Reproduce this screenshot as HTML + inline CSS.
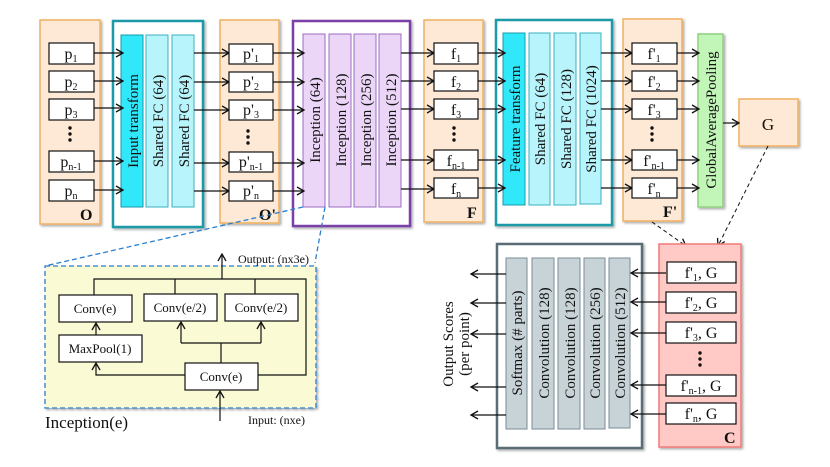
<!DOCTYPE html>
<html><head><meta charset="utf-8"><style>
html,body{margin:0;padding:0;background:#fff;}
svg{display:block;font-family:"Liberation Serif",serif;}
</style></head><body>
<svg width="830" height="467" viewBox="0 0 830 467" xmlns="http://www.w3.org/2000/svg">
<defs>
<marker id="a" markerWidth="10" markerHeight="10" refX="8" refY="5" orient="auto" markerUnits="userSpaceOnUse">
<path d="M1,1 L8,5 L1,9" fill="none" stroke="#111" stroke-width="1.3"/></marker>
<filter id="sh" x="-10%" y="-10%" width="130%" height="130%"><feDropShadow dx="1.5" dy="1.5" stdDeviation="1.2" flood-color="#000" flood-opacity="0.35"/></filter>
</defs>
<g font-size="15" fill="#111">
<!-- O -->
<rect x="40" y="20" width="60" height="204" fill="#fde9d5" stroke="#f0b060" stroke-width="1.5" filter="url(#sh)"/>
<text x="80" y="220" font-size="16" font-weight="bold">O</text>
<!-- Input transform block -->
<rect x="113" y="21" width="90" height="206" fill="#fff" stroke="#1a9aa8" stroke-width="2.5" filter="url(#sh)"/>
<rect x="121" y="35" width="22" height="172" fill="#30e8fa" stroke="#1a9aa8"/>
<rect x="146" y="35" width="22" height="172" fill="#b8f4fb" stroke="#3ab0c0"/>
<rect x="172" y="35" width="22" height="172" fill="#b8f4fb" stroke="#3ab0c0"/>
<text transform="translate(138,121) rotate(-90)" text-anchor="middle">Input  transform</text>
<text transform="translate(163,121) rotate(-90)" text-anchor="middle">Shared  FC (64)</text>
<text transform="translate(189,121) rotate(-90)" text-anchor="middle">Shared  FC (64)</text>
<!-- O' -->
<rect x="220" y="20" width="59" height="203" fill="#fde9d5" stroke="#f0b060" stroke-width="1.5" filter="url(#sh)"/>
<text x="259" y="220" font-size="16" font-weight="bold">O'</text>
<!-- Inception block -->
<rect x="293" y="21" width="117" height="205" fill="#fff" stroke="#7a3fa8" stroke-width="2.5" filter="url(#sh)"/>
<rect x="303" y="34" width="22" height="173" fill="#ecd6f8" stroke="#9b6cc0"/>
<rect x="329" y="34" width="22" height="173" fill="#ecd6f8" stroke="#9b6cc0"/>
<rect x="354" y="34" width="22" height="173" fill="#ecd6f8" stroke="#9b6cc0"/>
<rect x="379" y="34" width="22" height="173" fill="#ecd6f8" stroke="#9b6cc0"/>
<text transform="translate(320,120) rotate(-90)" text-anchor="middle">Inception  (64)</text>
<text transform="translate(346,120) rotate(-90)" text-anchor="middle">Inception  (128)</text>
<text transform="translate(371,120) rotate(-90)" text-anchor="middle">Inception  (256)</text>
<text transform="translate(396,120) rotate(-90)" text-anchor="middle">Inception  (512)</text>
<!-- F -->
<rect x="424" y="20" width="59" height="202" fill="#fde9d5" stroke="#f0b060" stroke-width="1.5" filter="url(#sh)"/>
<text x="467" y="218" font-size="16" font-weight="bold">F</text>
<!-- Feature transform -->
<rect x="496" y="20" width="116" height="205" fill="#fff" stroke="#1a9aa8" stroke-width="2.5" filter="url(#sh)"/>
<rect x="503" y="33" width="22" height="172" fill="#30e8fa" stroke="#1a9aa8"/>
<rect x="529" y="33" width="21" height="172" fill="#b8f4fb" stroke="#3ab0c0"/>
<rect x="554" y="33" width="22" height="172" fill="#b8f4fb" stroke="#3ab0c0"/>
<rect x="580" y="33" width="21" height="171" fill="#b8f4fb" stroke="#3ab0c0"/>
<text transform="translate(520,119) rotate(-90)" text-anchor="middle">Feature  transform</text>
<text transform="translate(545,119) rotate(-90)" text-anchor="middle">Shared  FC (64)</text>
<text transform="translate(571,119) rotate(-90)" text-anchor="middle">Shared  FC (128)</text>
<text transform="translate(596,119) rotate(-90)" text-anchor="middle">Shared  FC (1024)</text>
<!-- F' -->
<rect x="623" y="19" width="59" height="202" fill="#fde9d5" stroke="#f0b060" stroke-width="1.5" filter="url(#sh)"/>
<text x="663" y="217" font-size="16" font-weight="bold">F'</text>
<!-- GAP -->
<rect x="698" y="34" width="25" height="173" fill="#c2f5b8" stroke="#8fd080" stroke-width="1.5" filter="url(#sh)"/>
<text transform="translate(716,120) rotate(-90)" text-anchor="middle">GlobalAveragePooling</text>
<!-- G -->
<rect x="739" y="99" width="59" height="47" fill="#fde9d5" stroke="#f0b060" stroke-width="1.5" filter="url(#sh)"/>
<text x="768" y="130" text-anchor="middle" font-size="17">G</text>
<line x1="723" y1="123" x2="739" y2="123" stroke="#111" stroke-width="1.2" marker-end="url(#a)"/>
<!-- dashed to C -->
<line x1="652" y1="222" x2="686" y2="246" stroke="#111" stroke-dasharray="4,3" marker-end="url(#a)"/>
<line x1="768" y1="146" x2="718" y2="246" stroke="#111" stroke-dasharray="4,3" marker-end="url(#a)"/>

<!-- rows -->
<g stroke="#111" stroke-width="1.2" fill="none">
<line x1="94" y1="53" x2="123" y2="53" marker-end="url(#a)"/>
<line x1="94" y1="81" x2="123" y2="81" marker-end="url(#a)"/>
<line x1="94" y1="108" x2="123" y2="108" marker-end="url(#a)"/>
<line x1="94" y1="161" x2="123" y2="161" marker-end="url(#a)"/>
<line x1="94" y1="190" x2="123" y2="190" marker-end="url(#a)"/>
<line x1="194" y1="53" x2="229" y2="53" marker-end="url(#a)"/>
<line x1="194" y1="82" x2="229" y2="82" marker-end="url(#a)"/>
<line x1="194" y1="110" x2="229" y2="110" marker-end="url(#a)"/>
<line x1="194" y1="163" x2="229" y2="163" marker-end="url(#a)"/>
<line x1="194" y1="191" x2="229" y2="191" marker-end="url(#a)"/>
<line x1="273" y1="53" x2="304" y2="53" marker-end="url(#a)"/>
<line x1="273" y1="82" x2="304" y2="82" marker-end="url(#a)"/>
<line x1="273" y1="110" x2="304" y2="110" marker-end="url(#a)"/>
<line x1="273" y1="163" x2="304" y2="163" marker-end="url(#a)"/>
<line x1="273" y1="191" x2="304" y2="191" marker-end="url(#a)"/>
<line x1="401" y1="53" x2="434" y2="53" marker-end="url(#a)"/>
<line x1="401" y1="81" x2="434" y2="81" marker-end="url(#a)"/>
<line x1="401" y1="109" x2="434" y2="109" marker-end="url(#a)"/>
<line x1="401" y1="160" x2="434" y2="160" marker-end="url(#a)"/>
<line x1="401" y1="189" x2="434" y2="189" marker-end="url(#a)"/>
<line x1="478" y1="53" x2="505" y2="53" marker-end="url(#a)"/>
<line x1="478" y1="81" x2="505" y2="81" marker-end="url(#a)"/>
<line x1="478" y1="109" x2="505" y2="109" marker-end="url(#a)"/>
<line x1="478" y1="160" x2="505" y2="160" marker-end="url(#a)"/>
<line x1="478" y1="188" x2="505" y2="188" marker-end="url(#a)"/>
<line x1="601" y1="53" x2="632" y2="53" marker-end="url(#a)"/>
<line x1="601" y1="81" x2="632" y2="81" marker-end="url(#a)"/>
<line x1="601" y1="109" x2="632" y2="109" marker-end="url(#a)"/>
<line x1="601" y1="160" x2="632" y2="160" marker-end="url(#a)"/>
<line x1="601" y1="188" x2="632" y2="188" marker-end="url(#a)"/>
<line x1="677" y1="53" x2="699" y2="53" marker-end="url(#a)"/>
<line x1="677" y1="81" x2="699" y2="81" marker-end="url(#a)"/>
<line x1="677" y1="109" x2="699" y2="109" marker-end="url(#a)"/>
<line x1="677" y1="160" x2="699" y2="160" marker-end="url(#a)"/>
<line x1="677" y1="188" x2="699" y2="188" marker-end="url(#a)"/>
</g>

<!-- item boxes -->
<g fill="#fff" stroke="#111" stroke-width="1.2">
<rect x="49" y="43" width="45" height="21"/><rect x="49" y="71" width="45" height="21"/><rect x="49" y="99" width="45" height="21"/><rect x="49" y="151" width="45" height="21"/><rect x="49" y="180" width="45" height="21"/>
<rect x="229" y="44" width="44" height="20"/><rect x="229" y="72" width="44" height="20"/><rect x="229" y="100" width="44" height="20"/><rect x="229" y="152" width="44" height="20"/><rect x="229" y="181" width="44" height="20"/>
<rect x="434" y="43" width="44" height="21"/><rect x="434" y="71" width="44" height="20"/><rect x="434" y="99" width="44" height="20"/><rect x="434" y="150" width="44" height="20"/><rect x="434" y="178" width="44" height="20"/>
<rect x="632" y="43" width="45" height="21"/><rect x="632" y="71" width="45" height="20"/><rect x="632" y="99" width="45" height="20"/><rect x="632" y="150" width="45" height="20"/><rect x="632" y="178" width="45" height="20"/>
</g>
<g text-anchor="middle" font-size="16">
<text x="71" y="59">p<tspan font-size="10" dy="3">1</tspan></text>
<text x="71" y="87">p<tspan font-size="10" dy="3">2</tspan></text>
<text x="71" y="115">p<tspan font-size="10" dy="3">3</tspan></text>
<text x="71" y="167">p<tspan font-size="10" dy="3">n-1</tspan></text>
<text x="71" y="196">p<tspan font-size="10" dy="3">n</tspan></text>
<text x="251" y="59">p'<tspan font-size="10" dy="3">1</tspan></text>
<text x="251" y="87">p'<tspan font-size="10" dy="3">2</tspan></text>
<text x="251" y="115">p'<tspan font-size="10" dy="3">3</tspan></text>
<text x="251" y="167">p'<tspan font-size="10" dy="3">n-1</tspan></text>
<text x="251" y="196">p'<tspan font-size="10" dy="3">n</tspan></text>
<text x="456" y="59">f<tspan font-size="10" dy="3">1</tspan></text>
<text x="456" y="87">f<tspan font-size="10" dy="3">2</tspan></text>
<text x="456" y="115">f<tspan font-size="10" dy="3">3</tspan></text>
<text x="456" y="166">f<tspan font-size="10" dy="3">n-1</tspan></text>
<text x="456" y="194">f<tspan font-size="10" dy="3">n</tspan></text>
<text x="654" y="59">f'<tspan font-size="10" dy="3">1</tspan></text>
<text x="654" y="87">f'<tspan font-size="10" dy="3">2</tspan></text>
<text x="654" y="115">f'<tspan font-size="10" dy="3">3</tspan></text>
<text x="654" y="166">f'<tspan font-size="10" dy="3">n-1</tspan></text>
<text x="654" y="194">f'<tspan font-size="10" dy="3">n</tspan></text>
</g>
<g fill="#111">
<circle cx="70" cy="128" r="1.7"/><circle cx="70" cy="134" r="1.7"/><circle cx="70" cy="140" r="1.7"/>
<circle cx="248" cy="131" r="1.7"/><circle cx="248" cy="137" r="1.7"/><circle cx="248" cy="143" r="1.7"/>
<circle cx="454" cy="128" r="1.7"/><circle cx="454" cy="134" r="1.7"/><circle cx="454" cy="140" r="1.7"/>
<circle cx="652" cy="128" r="1.7"/><circle cx="652" cy="134" r="1.7"/><circle cx="652" cy="140" r="1.7"/>
</g>

<!-- Inception detail -->
<line x1="303" y1="207" x2="45" y2="266" stroke="#2a7fd0" stroke-width="1.3" stroke-dasharray="5,3"/>
<line x1="325" y1="207" x2="315" y2="263" stroke="#2a7fd0" stroke-width="1.3" stroke-dasharray="5,3"/>
<rect x="45" y="266" width="271" height="142" fill="#fafad4" stroke="#2a7fd0" stroke-width="1.3" stroke-dasharray="5,3" filter="url(#sh)"/>
<g stroke="#111" stroke-width="1.2" fill="none">
<polyline points="94,295 94,279 306,279 306,375 258,375"/>
<line x1="175" y1="279" x2="175" y2="294"/>
<line x1="255" y1="279" x2="255" y2="294"/>
<line x1="222" y1="279" x2="222" y2="254" marker-end="url(#a)"/>
<line x1="96" y1="335" x2="96" y2="323" marker-end="url(#a)"/>
<polyline points="185,375 96,375 96,363" marker-end="url(#a)"/>
<line x1="221" y1="363" x2="221" y2="343"/>
<polyline points="181,343 261,343"/>
<line x1="181" y1="343" x2="181" y2="322" marker-end="url(#a)"/>
<line x1="261" y1="343" x2="261" y2="322" marker-end="url(#a)"/>
<line x1="220" y1="421" x2="220" y2="391" marker-end="url(#a)"/>
</g>
<g fill="#fff" stroke="#111" stroke-width="1.2">
<rect x="59" y="295" width="73" height="27"/><rect x="144" y="294" width="73" height="27"/><rect x="225" y="294" width="73" height="27"/>
<rect x="59" y="335" width="83" height="27"/><rect x="185" y="363" width="73" height="27"/>
</g>
<g text-anchor="middle" font-size="13">
<text x="95" y="313">Conv(e)</text><text x="180" y="312">Conv(e/2)</text><text x="261" y="312">Conv(e/2)</text>
<text x="100" y="353">MaxPool(1)</text><text x="221" y="381">Conv(e)</text>
</g>
<text x="238" y="263" font-size="12">Output: (nx3e)</text>
<text x="248" y="424" font-size="12">Input: (nxe)</text>
<text x="45" y="428" font-size="17">Inception(e)</text>

<!-- Segmentation -->
<rect x="497" y="244" width="145" height="204" fill="#fff" stroke="#5a6c74" stroke-width="2.5" filter="url(#sh)"/>
<g fill="#c8d3d8" stroke="#7a8c94">
<rect x="506" y="258" width="21" height="171"/><rect x="532" y="258" width="22" height="171"/><rect x="558" y="258" width="22" height="171"/><rect x="584" y="258" width="21" height="171"/><rect x="609" y="258" width="21" height="170"/>
</g>
<text transform="translate(522,343) rotate(-90)" text-anchor="middle">Softmax (# parts)</text>
<text transform="translate(549,343) rotate(-90)" text-anchor="middle">Convolution (128)</text>
<text transform="translate(575,343) rotate(-90)" text-anchor="middle">Convolution (128)</text>
<text transform="translate(600,343) rotate(-90)" text-anchor="middle">Convolution (256)</text>
<text transform="translate(625,343) rotate(-90)" text-anchor="middle">Convolution (512)</text>
<rect x="659" y="244" width="82" height="203" fill="#ffc9c6" stroke="#f07a78" stroke-width="1.5" filter="url(#sh)"/>
<text x="724" y="443" font-size="16" font-weight="bold">C</text>
<g stroke="#111" stroke-width="1.2" fill="none">
<line x1="666" y1="273" x2="631" y2="273" marker-end="url(#a)"/>
<line x1="666" y1="302" x2="631" y2="302" marker-end="url(#a)"/>
<line x1="666" y1="333" x2="631" y2="333" marker-end="url(#a)"/>
<line x1="666" y1="385" x2="631" y2="385" marker-end="url(#a)"/>
<line x1="666" y1="414" x2="631" y2="414" marker-end="url(#a)"/>
<line x1="506" y1="274" x2="471" y2="274" marker-end="url(#a)"/>
<line x1="506" y1="303" x2="471" y2="303" marker-end="url(#a)"/>
<line x1="506" y1="334" x2="471" y2="334" marker-end="url(#a)"/>
<line x1="506" y1="387" x2="471" y2="387" marker-end="url(#a)"/>
<line x1="506" y1="415" x2="471" y2="415" marker-end="url(#a)"/>
</g>
<g fill="#fff" stroke="#111" stroke-width="1.2">
<rect x="667" y="262" width="69" height="21"/><rect x="666" y="292" width="70" height="21"/><rect x="666" y="322" width="70" height="21"/><rect x="666" y="375" width="70" height="21"/><rect x="666" y="403" width="70" height="21"/>
</g>
<g fill="#111">
<circle cx="700" cy="353" r="1.7"/><circle cx="700" cy="359" r="1.7"/><circle cx="700" cy="365" r="1.7"/>
</g>
<g text-anchor="middle" font-size="16">
<text x="701" y="278">f'<tspan font-size="10" dy="3">1</tspan><tspan dy="-3">, G</tspan></text>
<text x="701" y="308">f'<tspan font-size="10" dy="3">2</tspan><tspan dy="-3">, G</tspan></text>
<text x="701" y="338">f'<tspan font-size="10" dy="3">3</tspan><tspan dy="-3">, G</tspan></text>
<text x="701" y="391">f'<tspan font-size="10" dy="3">n-1</tspan><tspan dy="-3">, G</tspan></text>
<text x="701" y="419">f'<tspan font-size="10" dy="3">n</tspan><tspan dy="-3">, G</tspan></text>
</g>
<text transform="translate(453,344) rotate(-90)" text-anchor="middle" font-size="15">Output Scores</text>
<text transform="translate(469,344) rotate(-90)" text-anchor="middle" font-size="15">(per point)</text>
</g>
</svg>
</body></html>
